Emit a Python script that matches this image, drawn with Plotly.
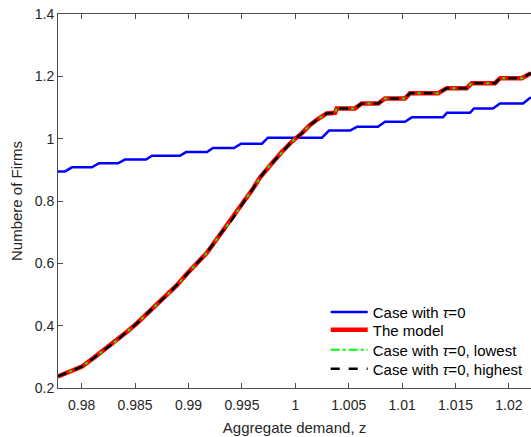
import plotly.graph_objects as go

# Case with tau=0 (blue staircase)
blue_z = [0.97778, 0.97844, 0.97909, 0.98096, 0.98162, 0.98340, 0.98405, 0.98602, 0.98658,
          0.98920, 0.98977, 0.99173, 0.99229, 0.99426, 0.99492, 0.99688, 0.99744, 1.00250,
          1.00316, 1.00512, 1.00578, 1.00774, 1.00840, 1.01027, 1.01093, 1.01383, 1.01420,
          1.01636, 1.01673, 1.01851, 1.01916, 1.02132, 1.02207]
blue_n = [0.895, 0.895, 0.908, 0.908, 0.921, 0.921, 0.933, 0.933, 0.945, 0.945, 0.957,
          0.957, 0.970, 0.970, 0.984, 0.984, 1.003, 1.003, 1.026, 1.026, 1.038, 1.038,
          1.054, 1.054, 1.069, 1.069, 1.083, 1.083, 1.097, 1.097, 1.113, 1.113, 1.133]

# The model (and tau=0 lowest / highest, which coincide)
model_z = [0.97778, 0.97890, 0.98003, 0.98106, 0.98202, 0.98328, 0.98421, 0.98515, 0.98609,
           0.98702, 0.98796, 0.98889, 0.98983, 0.99077, 0.99170, 0.99232, 0.99311, 0.99407,
           0.99463, 0.99529, 0.99595, 0.99669, 0.99726, 0.99794, 0.99875, 0.99966, 1.00060,
           1.00138, 1.00212, 1.00294, 1.00372, 1.00388, 1.00559, 1.00622, 1.00777, 1.00840,
           1.01027, 1.01074, 1.01339, 1.01418, 1.01605, 1.01652, 1.01870, 1.01917, 1.02120,
           1.02207]
model_n = [0.237, 0.252, 0.269, 0.295, 0.320, 0.352, 0.380, 0.407, 0.438, 0.466, 0.497,
           0.529, 0.566, 0.600, 0.633, 0.662, 0.700, 0.740, 0.770, 0.803, 0.835, 0.875,
           0.900, 0.926, 0.958, 0.990, 1.017, 1.044, 1.063, 1.081, 1.083, 1.097, 1.097,
           1.113, 1.113, 1.129, 1.129, 1.146, 1.146, 1.162, 1.162, 1.178, 1.178, 1.194,
           1.194, 1.210]
lowest_z = model_z
lowest_n = model_n
highest_z = model_z
highest_n = model_n

x_ticks = [0.98, 0.985, 0.99, 0.995, 1.0, 1.005, 1.01, 1.015, 1.02]
x_ticklabels = ["0.98", "0.985", "0.99", "0.995", "1", "1.005", "1.01", "1.015", "1.02"]
y_ticks = [0.2, 0.4, 0.6, 0.8, 1.0, 1.2, 1.4]
y_ticklabels = ["0.2", "0.4", "0.6", "0.8", "1", "1.2", "1.4"]

FONT = "Liberation Sans, Arial, Helvetica"

fig = go.Figure()
fig.add_trace(go.Scatter(x=blue_z, y=blue_n, mode="lines", name="Case with <i>τ</i>=0",
                         line=dict(color="#0000ff", width=2.5), legend="legend"))
fig.add_trace(go.Scatter(x=model_z, y=model_n, mode="lines", name="The model",
                         line=dict(color="#ff0000", width=4.5), legend="legend2"))
fig.add_trace(go.Scatter(x=lowest_z, y=lowest_n, mode="lines", name="Case with <i>τ</i>=0, lowest",
                         line=dict(color="#00ff00", width=2, dash="dashdot"), legend="legend3"))
fig.add_trace(go.Scatter(x=highest_z, y=highest_n, mode="lines", name="Case with <i>τ</i>=0, highest",
                         line=dict(color="#000000", width=2.5, dash="dash"), legend="legend4"))

axis_common = dict(showgrid=False, zeroline=False, showline=True, linecolor="#4d4d4d",
                   linewidth=1, ticks="inside", ticklen=5, tickcolor="#4d4d4d",
                   tickfont=dict(family=FONT, size=14, color="#262626"))

fig.update_xaxes(range=[0.97778, 1.02207], tickvals=x_ticks, ticktext=x_ticklabels,
                 mirror="ticks", ticklabelstandoff=4,
                 title=dict(text="Aggregate demand, z", standoff=10,
                            font=dict(family=FONT, size=15, color="#262626")),
                 **axis_common)
fig.update_yaxes(range=[0.2, 1.4], tickvals=y_ticks, ticktext=y_ticklabels,
                 mirror=False,
                 title=dict(text="Numbere of Firms", standoff=8,
                            font=dict(family=FONT, size=15, color="#262626")),
                 **axis_common)

leg_common = dict(x=0.566, xanchor="left", yanchor="middle", bgcolor="rgba(0,0,0,0)",
                  borderwidth=0, itemwidth=37,
                  font=dict(family=FONT, size=15, color="#000000"))
fig.update_layout(
    width=531, height=437,
    margin=dict(l=58, r=0, t=14, b=49),
    paper_bgcolor="white", plot_bgcolor="white",
    showlegend=True,
    legend=dict(y=0.2024, **leg_common),
    legend2=dict(y=0.1551, **leg_common),
    legend3=dict(y=0.1016, **leg_common),
    legend4=dict(y=0.0508, **leg_common),
)

fig.write_html("out.html")
